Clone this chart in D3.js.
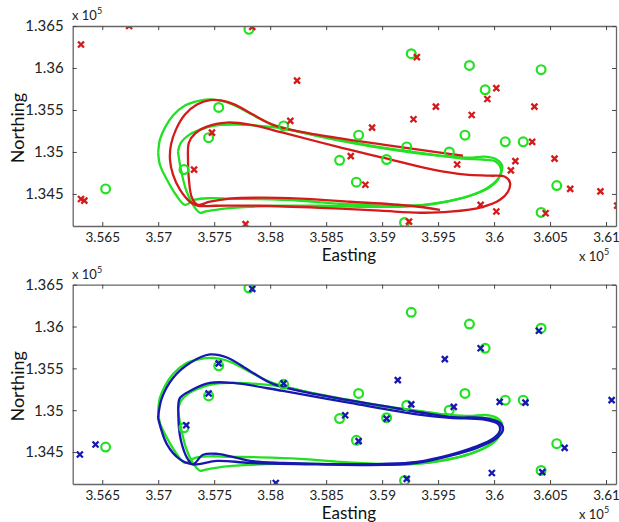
<!DOCTYPE html>
<html>
<head>
<meta charset="utf-8">
<script src="https://cdn.jsdelivr.net/npm/d3@7"></script>
<style>
  html, body { margin: 0; padding: 0; background: #fff; }
  svg { display: block; font-family: Lato, "Open Sans", sans-serif; }
</style>
</head>
<body>
<svg id="chart" width="619" height="522"></svg>
<script>
// ---------- data (Easting / Northing, in units of 1e5 m) ----------
const xTicks = [3.565, 3.57, 3.575, 3.58, 3.585, 3.59, 3.595, 3.6, 3.605, 3.61];
const xTickLabels = ["3.565", "3.57", "3.575", "3.58", "3.585", "3.59", "3.595", "3.6", "3.605", "3.61"];
const yTicks = [1.345, 1.35, 1.355, 1.36, 1.365];
const yTickLabels = ["1.345", "1.35", "1.355", "1.36", "1.365"];
const xDomain = [3.56236, 3.61089];
const yDomain = [1.34118, 1.365];

// green circles (shown in both panels)
const greenE = [3.5781, 3.5754, 3.5745, 3.5723, 3.5653, 3.5812, 3.5879, 3.5922, 3.5904, 3.5862, 3.5877,
                3.5926, 3.5920, 3.5978, 3.6042, 3.5992, 3.5974, 3.5960, 3.6010, 3.6026, 3.6056, 3.6042];
const greenN = [1.3646, 1.3553, 1.3517, 1.3479, 1.3456, 1.3531, 1.3520, 1.3506, 1.3491, 1.3490, 1.3464,
                1.3617, 1.3416, 1.3603, 1.3598, 1.3574, 1.3520, 1.3500, 1.3512, 1.3512, 1.3460, 1.3428];

// red crosses (top panel)
const redE = [3.5674, 3.5631, 3.5784, 3.5748, 3.5732, 3.5631, 3.5634, 3.5778, 3.5824, 3.5818, 3.5891,
              3.5931, 3.5928, 3.5948, 3.5872, 3.5885, 3.5924, 3.6002, 3.5994, 3.5980, 3.6036, 3.6034,
              3.5967, 3.6019, 3.6015, 3.6054, 3.6068, 3.6095, 3.6110, 3.5988, 3.6002, 3.6046];
const redN = [1.3650, 1.3628, 1.3649, 1.3523, 1.3479, 1.3444, 1.3442, 1.3414, 1.3585, 1.3537, 1.3529,
              1.3613, 1.3539, 1.3554, 1.3495, 1.3461, 1.3417, 1.3576, 1.3563, 1.3544, 1.3554, 1.3512,
              1.3485, 1.3489, 1.3478, 1.3492, 1.3456, 1.3453, 1.3436, 1.3437, 1.3429, 1.3427];

// blue crosses (bottom panel)
const blueE = [3.5784, 3.5754, 3.5745, 3.5725, 3.5644, 3.5630, 3.5812, 3.5914, 3.5926, 3.5867, 3.5904,
               3.5879, 3.5805, 3.5922, 3.5956, 3.5988, 3.6040, 3.5964, 3.6005, 3.6028, 3.6105, 3.6063,
               3.5998, 3.6043];
const blueN = [1.3645, 1.3556, 1.3520, 1.3482, 1.3459, 1.3447, 1.3532, 1.3536, 1.3507, 1.3494, 1.3490,
               1.3463, 1.3413, 1.3418, 1.3561, 1.3574, 1.3595, 1.3504, 1.3510, 1.3509, 1.3512, 1.3455,
               1.3425, 1.3426];

// contour lines [Easting, Northing]
const greenOuter = [[3.5700,1.34992],[3.57015,1.35147],[3.5706,1.3529],[3.57132,1.35433],[3.57239,1.35553],[3.57373,1.35612],
  [3.57489,1.35624],[3.57596,1.356],[3.57703,1.35541],[3.57837,1.35445],[3.57998,1.35338],[3.58177,1.35266],[3.58445,1.35183],
  [3.58713,1.35111],[3.59025,1.35039],[3.59338,1.3498],[3.59606,1.34944],[3.59785,1.34932],[3.59919,1.34944],[3.60026,1.34908],
  [3.60071,1.34837],[3.60053,1.34717],[3.59981,1.3461],[3.59856,1.34514],[3.59695,1.34443],[3.59472,1.34383],[3.59249,1.34359],
  [3.58981,1.34359],[3.58623,1.34383],[3.58266,1.34419],[3.57909,1.34437],[3.57641,1.34443],[3.57462,1.34449],[3.57328,1.34431],
  [3.57239,1.34371],[3.57158,1.3449],[3.57078,1.34669],[3.57015,1.34848],[3.5700,1.34992]];
const greenInner = [[3.57176,1.35004],[3.57203,1.35111],[3.57266,1.35195],[3.57373,1.35266],[3.57507,1.35314],[3.57685,1.35326],
  [3.58061,1.3529],[3.58418,1.35195],[3.59008,1.35051],[3.59454,1.34968],[3.59713,1.3492],[3.59901,1.3491],[3.60017,1.34884],
  [3.60062,1.34789],[3.60035,1.34669],[3.59954,1.34574],[3.59785,1.34479],[3.59517,1.34395],[3.59249,1.34353],[3.58891,1.34347],
  [3.58445,1.34359],[3.58087,1.34359],[3.57819,1.34347],[3.57569,1.34323],[3.57417,1.34288],[3.57373,1.34276],[3.5731,1.34371],
  [3.57248,1.3455],[3.57203,1.34789],[3.57176,1.35004]];
const redContour = [[3.59722,1.34956],[3.59454,1.35004],[3.59008,1.35087],[3.58418,1.35206],[3.58043,1.35314],[3.57846,1.35445],
  [3.57685,1.35564],[3.57569,1.35612],[3.57462,1.35618],[3.57346,1.35564],[3.57239,1.35445],[3.57158,1.35266],[3.57114,1.35087],
  [3.57105,1.34908],[3.57132,1.34729],[3.57194,1.3455],[3.57283,1.34407],[3.57355,1.34359],[3.57507,1.34359],[3.57909,1.34359],
  [3.58445,1.34335],[3.58981,1.343],[3.59338,1.34276],[3.59606,1.34288],[3.59901,1.34347],[3.60053,1.34431],[3.60124,1.34526],
  [3.60142,1.34634],[3.60097,1.34705],[3.59963,1.34717],[3.59749,1.34729],[3.59454,1.34789],[3.59008,1.34932],[3.58597,1.35063],
  [3.58114,1.3523],[3.57819,1.35326],[3.57614,1.3535],[3.57435,1.35302],[3.57328,1.35218],[3.57274,1.35111],[3.57266,1.34908],
  [3.57274,1.34669],[3.57301,1.34455],[3.57355,1.34371],[3.57462,1.34407],[3.57641,1.34443],[3.57909,1.34455],[3.58266,1.34443],
  [3.58713,1.34407],[3.59249,1.34359],[3.59517,1.34311]];
const blueOuter = [[3.56998,1.34908],[3.57033,1.35147],[3.57132,1.35385],[3.57283,1.35564],[3.57462,1.35666],[3.57614,1.3563],
  [3.57819,1.35469],[3.58025,1.35314],[3.58418,1.35189],[3.59008,1.35051],[3.59454,1.3495],[3.59669,1.34914],[3.59901,1.34908],
  [3.60053,1.34848],[3.6008,1.34771],[3.60026,1.34669],[3.59847,1.3455],[3.59606,1.34455],[3.59311,1.34371],[3.59008,1.34347],
  [3.58418,1.34353],[3.57819,1.34371],[3.57525,1.34395],[3.5731,1.34353],[3.57194,1.34413],[3.57078,1.34592],[3.56998,1.34908]];
const blueInner = [[3.57179,1.3503],[3.57194,1.35147],[3.57283,1.3523],[3.57462,1.35326],[3.57668,1.35326],[3.58114,1.3523],
  [3.58713,1.35087],[3.59311,1.3495],[3.59606,1.34908],[3.59901,1.3489],[3.60035,1.34837],[3.60053,1.34765],[3.59999,1.34669],
  [3.59829,1.34562],[3.59606,1.34467],[3.59311,1.34383],[3.59008,1.34359],[3.58418,1.34359],[3.58114,1.34371],[3.57819,1.34395],
  [3.57703,1.34431],[3.57525,1.34479],[3.574,1.34467],[3.5731,1.34353],[3.57257,1.34431],[3.57203,1.34634],[3.57185,1.34789],
  [3.57179,1.3503]];

// ---------- drawing ----------
const GREEN = "#22e022", RED = "#d41a1a", BLUE = "#1818b0";
const svg = d3.select("#chart");
const plotX0 = 72.7, plotX1 = 616;
const panels = [
  { top: 26, bottom: 226, crossE: redE, crossN: redN, crossColor: RED,
    lines: [[greenOuter, GREEN], [greenInner, GREEN], [redContour, RED]] },
  { top: 284.7, bottom: 484, crossE: blueE, crossN: blueN, crossColor: BLUE,
    lines: [[greenOuter, GREEN], [greenInner, GREEN], [blueOuter, BLUE], [blueInner, BLUE]] }
];

panels.forEach((p, i) => {
  const x = d3.scaleLinear().domain(xDomain).range([plotX0, plotX1]);
  const y = d3.scaleLinear().domain(yDomain).range([p.bottom, p.top]);
  const g = svg.append("g");
  const clipId = "clip" + i;
  svg.append("clipPath").attr("id", clipId).append("rect")
    .attr("x", plotX0).attr("y", p.top).attr("width", plotX1 - plotX0).attr("height", p.bottom - p.top);

  const plot = g.append("g").attr("clip-path", `url(#${clipId})`);
  const line = d3.line().x(d => x(d[0])).y(d => y(d[1])).curve(d3.curveCatmullRom.alpha(0.5));
  p.lines.forEach(([pts, col]) => {
    plot.append("path").attr("d", line(pts)).attr("fill", "none")
      .attr("stroke", col).attr("stroke-width", 2.3).attr("stroke-linejoin", "round");
  });

  // green circles
  plot.selectAll("circle.g").data(d3.range(greenE.length)).join("circle")
    .attr("cx", k => x(greenE[k])).attr("cy", k => y(greenN[k])).attr("r", 4.4)
    .attr("fill", "none").attr("stroke", GREEN).attr("stroke-width", 2.2);

  // crosses
  const s = 3;
  plot.selectAll("path.x").data(d3.range(p.crossE.length)).join("path")
    .attr("d", k => {
      const cx = x(p.crossE[k]), cy = y(p.crossN[k]);
      return `M${cx - s},${cy - s}L${cx + s},${cy + s}M${cx - s},${cy + s}L${cx + s},${cy - s}`;
    })
    .attr("stroke", p.crossColor).attr("stroke-width", 2.3).attr("fill", "none");

  // axes (box with inward ticks)
  const axB = d3.axisBottom(x).tickValues(xTicks).tickFormat((d, k) => xTickLabels[k]).tickSizeInner(-4).tickSizeOuter(0).tickPadding(6);
  const axT = d3.axisTop(x).tickValues(xTicks).tickFormat("").tickSizeInner(-4).tickSizeOuter(0);
  const axL = d3.axisLeft(y).tickValues(yTicks).tickFormat((d, k) => yTickLabels[k]).tickSizeInner(-4).tickSizeOuter(0).tickPadding(9);
  const axR = d3.axisRight(y).tickValues(yTicks).tickFormat("").tickSizeInner(-4).tickSizeOuter(0);
  const gB = g.append("g").attr("transform", `translate(0,${p.bottom})`).call(axB);
  const gT = g.append("g").attr("transform", `translate(0,${p.top})`).call(axT);
  const gL = g.append("g").attr("transform", `translate(${plotX0},0)`).call(axL);
  const gR = g.append("g").attr("transform", `translate(${plotX1},0)`).call(axR);
  [gB, gT, gL, gR].forEach(a => {
    a.select(".domain").attr("stroke", "#666").attr("stroke-width", 1.3);
    a.selectAll(".tick line").attr("stroke", "#444");
    a.selectAll(".tick text").attr("fill", "#222").attr("font-family", "Lato, sans-serif");
  });
  gB.selectAll(".tick text").attr("font-size", 13.5);
  gL.selectAll(".tick text").attr("font-size", 15);

  // axis labels
  g.append("text").attr("x", 349).attr("y", p.bottom + 35).attr("text-anchor", "middle")
    .attr("font-size", 17).attr("fill", "#111").text("Easting");
  g.append("text").attr("transform", `translate(24,${(p.top + p.bottom) / 2 + 2}) rotate(-90)`)
    .attr("text-anchor", "middle").attr("font-size", 18).attr("fill", "#111").text("Northing");

  // exponent labels
  const e1 = g.append("text").attr("x", 72).attr("y", p.top - 6).attr("font-size", 13).attr("fill", "#222");
  e1.append("tspan").text("x 10");
  e1.append("tspan").attr("dy", -6).attr("font-size", 9).text("5");
  const e2 = g.append("text").attr("x", 579).attr("y", p.bottom + 35).attr("font-size", 13).attr("fill", "#222");
  e2.append("tspan").text("x 10");
  e2.append("tspan").attr("dy", -6).attr("font-size", 9).text("5");
});
</script>
</body>
</html>
